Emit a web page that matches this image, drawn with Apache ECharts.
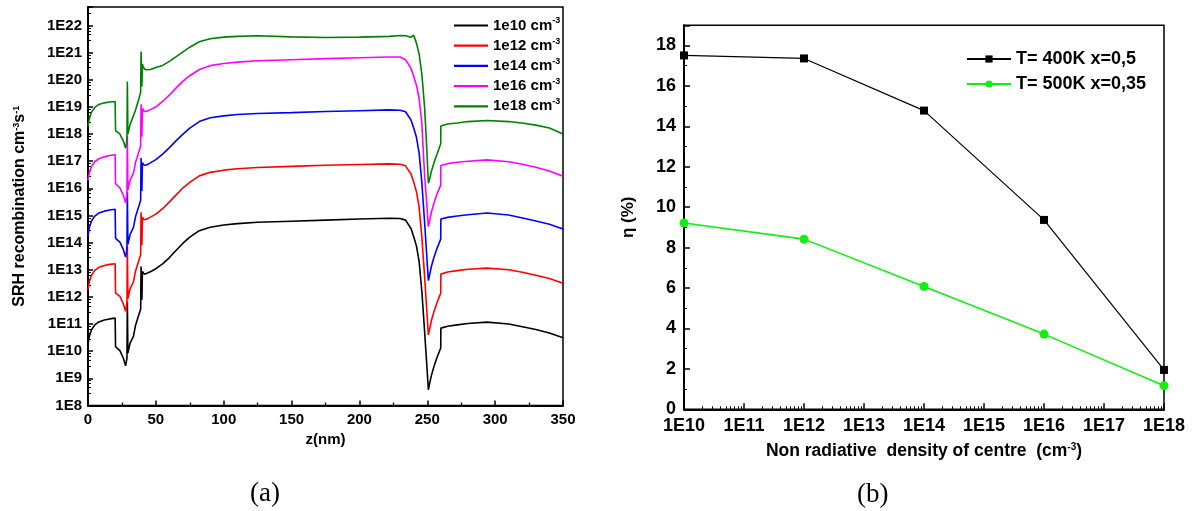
<!DOCTYPE html>
<html><head><meta charset="utf-8">
<script src="https://cdn.jsdelivr.net/npm/echarts@6/dist/echarts.min.js"></script>
<style>html,body{margin:0;padding:0;background:#fff}#c{width:1193px;height:511px}</style>
</head><body><div id="c"></div>
<script>
// ---- Panel (a): SRH recombination vs z (values as log10 of cm^-3 s^-1) ----
const zNm = [0, 1, 2.5, 5, 8, 12, 16, 20, 20.3, 21.5,
  23.5, 26, 27.7, 28.7, 29.0, 29.4, 31, 33.5, 35, 37.5,
  38.8, 39.1, 39.7, 40.1, 40.6, 41.5, 43, 46, 50, 55,
  60, 65, 70, 75, 82, 90, 100, 110, 125, 150,
  175, 200, 222, 230, 234, 238, 240, 242, 244, 246,
  248, 249.5, 250.8, 251.5, 253, 255, 257, 259.9, 260, 265,
  272, 280, 294, 310, 321, 330, 340, 350];

const logSrh1e10 = [10.24, 10.55, 10.78, 10.97, 11.08, 11.15, 11.19, 11.22, 10.17, 10.12,
  10.02, 9.75, 9.46, 9.75, 11.83, 9.93, 10.3, 10.55, 10.95, 11.35,
  11.55, 13.12, 11.9, 12.94, 12.9, 12.84, 12.86, 12.93, 13.04, 13.22,
  13.45, 13.72, 13.98, 14.2, 14.44, 14.57, 14.65, 14.7, 14.75, 14.79,
  14.83, 14.87, 14.9, 14.89, 14.83, 14.52, 14.22, 13.88, 13.3, 12.2,
  10.75, 9.6, 8.58, 8.75, 9.1, 9.45, 9.75, 10.12, 10.85, 10.92,
  10.97, 11.02, 11.07, 11.0, 10.89, 10.8, 10.67, 10.5];

const logSrh1e12 = [12.26, 12.56, 12.79, 12.98, 13.09, 13.16, 13.2, 13.22, 12.15, 12.11,
  12.02, 11.75, 11.47, 11.76, 13.86, 11.94, 12.3, 12.56, 12.95, 13.35,
  13.56, 15.12, 13.9, 14.94, 14.9, 14.84, 14.86, 14.94, 15.05, 15.25,
  15.5, 15.76, 16.02, 16.22, 16.46, 16.59, 16.67, 16.72, 16.77, 16.81,
  16.85, 16.88, 16.9, 16.89, 16.83, 16.53, 16.23, 15.88, 15.3, 14.2,
  12.77, 11.6, 10.6, 10.77, 11.12, 11.47, 11.77, 12.14, 12.84, 12.92,
  12.97, 13.02, 13.06, 13.0, 12.9, 12.8, 12.68, 12.5];

const logSrh1e14 = [14.26, 14.56, 14.79, 14.98, 15.09, 15.16, 15.2, 15.23, 14.16, 14.12,
  14.02, 13.75, 13.47, 13.76, 15.88, 13.94, 14.3, 14.56, 14.95, 15.35,
  15.56, 17.12, 15.9, 16.94, 16.9, 16.85, 16.86, 16.94, 17.06, 17.26,
  17.5, 17.76, 18.0, 18.22, 18.46, 18.6, 18.67, 18.72, 18.76, 18.79,
  18.83, 18.86, 18.89, 18.88, 18.82, 18.52, 18.22, 17.88, 17.3, 16.2,
  14.77, 13.6, 12.6, 12.76, 13.12, 13.47, 13.77, 14.13, 14.87, 14.93,
  14.98, 15.03, 15.09, 15.02, 14.9, 14.8, 14.68, 14.5];

const logSrh1e16 = [16.29, 16.57, 16.8, 16.98, 17.09, 17.16, 17.21, 17.24, 16.17, 16.12,
  16.02, 15.75, 15.47, 15.76, 17.92, 15.95, 16.3, 16.56, 16.95, 17.35,
  17.56, 19.1, 17.9, 18.94, 18.88, 18.83, 18.83, 18.9, 19.0, 19.2,
  19.44, 19.7, 19.95, 20.15, 20.38, 20.52, 20.6, 20.65, 20.7, 20.74,
  20.78, 20.81, 20.84, 20.84, 20.74, 20.42, 20.12, 19.8, 19.3, 18.4,
  16.5, 15.5, 14.59, 14.76, 15.12, 15.47, 15.77, 16.12, 16.84, 16.91,
  16.96, 17.0, 17.05, 16.98, 16.88, 16.78, 16.64, 16.45];

const logSrh1e18 = [18.28, 18.57, 18.8, 18.98, 19.09, 19.15, 19.18, 19.2, 18.13, 18.1,
  18.0, 17.75, 17.48, 17.75, 19.94, 18.0, 18.35, 18.68, 18.88, 19.3,
  19.55, 21.04, 19.75, 20.58, 20.5, 20.4, 20.37, 20.38, 20.45, 20.53,
  20.68, 20.85, 21.03, 21.2, 21.4, 21.51, 21.57, 21.6, 21.62, 21.58,
  21.56, 21.57, 21.6, 21.63, 21.62, 21.57, 21.64, 21.35, 20.95, 20.2,
  19.0, 17.6, 16.19, 16.3, 16.62, 16.95, 17.24, 17.64, 18.3, 18.37,
  18.41, 18.46, 18.5, 18.46, 18.4, 18.33, 18.22, 18.0];

const srhNames = ['1e10 cm-3', '1e12 cm-3', '1e14 cm-3', '1e16 cm-3', '1e18 cm-3'];
const srhColors = ['#000000', '#ff0000', '#0000ff', '#ff00ff', '#008000'];

// ---- Panel (b): efficiency vs centre density ----
const centreDensity = [1e10, 1e12, 1e14, 1e16, 1e18];
const eta400K = [17.51, 17.36, 14.78, 9.37, 1.95];
const eta500K = [9.22, 8.42, 6.08, 3.72, 1.17];
const etaNames = ['T= 400K x=0,5', 'T= 500K x=0,35'];

const FONT = "'Liberation Sans', Arial, Helvetica, sans-serif";
const SERIF = "'Liberation Serif', 'Times New Roman', serif";

function pairs(logs) { return zNm.map((z, i) => [z, Math.pow(10, logs[i])]); }
function expLabel(v) {
  const e = Math.log10(v);
  return Math.abs(e - Math.round(e)) < 1e-6 ? '1E' + Math.round(e) : '';
}
const srhLogs = [logSrh1e10, logSrh1e12, logSrh1e14, logSrh1e16, logSrh1e18];

const chart = echarts.init(document.getElementById('c'));
const leftSeries = srhLogs.map((logs, i) => ({
  name: srhNames[i], type: 'line', xAxisIndex: 0, yAxisIndex: 0,
  data: pairs(logs), symbol: 'none', showSymbol: false,
  lineStyle: { color: srhColors[i], width: 1.6 }, itemStyle: { color: srhColors[i] },
  animation: false
}));

const supStyle = { fontSize: 9, fontWeight: 'bold', fontFamily: FONT, lineHeight: 8, verticalAlign: 'top', color: '#000' };

const option = {
  animation: false,
  backgroundColor: '#fff',
  textStyle: { fontFamily: FONT },
  grid: [
    { left: 88, top: 7, width: 475, height: 398.5, show: true, borderColor: '#000', borderWidth: 1.5, backgroundColor: 'transparent' },
    { left: 684, top: 25.3, width: 480, height: 384, show: true, borderColor: '#000', borderWidth: 1.5, backgroundColor: 'transparent' }
  ],
  legend: [
    {
      orient: 'vertical', left: 449, top: 11.5, itemWidth: 34, itemHeight: 2.2, itemGap: 3.7,
      data: srhNames.map(n => ({ name: n, icon: 'rect' })),
      formatter: n => '{t|' + n.slice(0, -2) + '}{s|' + n.slice(-2) + '}',
      textStyle: {
        fontFamily: FONT, color: '#000',
        rich: {
          t: { fontSize: 15, fontWeight: 'bold', fontFamily: FONT, lineHeight: 18, color: '#000' },
          s: { fontSize: 9, fontWeight: 'bold', fontFamily: FONT, lineHeight: 10, verticalAlign: 'top', color: '#000' }
        }
      }
    },
    {
      orient: 'vertical', left: 961, top: 44, itemWidth: 44, itemHeight: 9, itemGap: 5,
      data: etaNames,
      textStyle: { fontFamily: FONT, fontWeight: 'bold', fontSize: 18, color: '#000', lineHeight: 20 }
    }
  ],
  xAxis: [
    {
      type: 'value', gridIndex: 0, min: 0, max: 350, interval: 50,
      axisLine: { lineStyle: { color: '#000', width: 2 } },
      axisTick: { inside: true, length: 5, lineStyle: { color: '#000', width: 1.5 } },
      minorTick: { show: true, splitNumber: 2, length: 3, lineStyle: { color: '#000', width: 1.2 } },
      splitLine: { show: false },
      axisLabel: { color: '#000', fontWeight: 'bold', fontSize: 15, margin: 7, fontFamily: FONT },
      name: 'z(nm)', nameLocation: 'middle', nameGap: 23,
      nameTextStyle: { color: '#000', fontWeight: 'bold', fontSize: 15, fontFamily: FONT }
    },
    {
      type: 'log', gridIndex: 1, min: 1e10, max: 1e18, logBase: 10,
      axisLine: { lineStyle: { color: '#000', width: 2 } },
      axisTick: { inside: true, length: 6, lineStyle: { color: '#000', width: 1.5 } },
      minorTick: { show: true, splitNumber: 9, length: 3, lineStyle: { color: '#000', width: 1 } },
      splitLine: { show: false },
      axisLabel: { color: '#000', fontWeight: 'bold', fontSize: 18, margin: 8, fontFamily: FONT, formatter: expLabel },
      name: 'Non radiative  density of centre  (cm{s|-3})', nameLocation: 'middle', nameGap: 33,
      nameTextStyle: {
        color: '#000', fontWeight: 'bold', fontSize: 17.5, fontFamily: FONT,
        rich: { s: Object.assign({}, supStyle, { fontSize: 10 }) }
      }
    }
  ],
  yAxis: [
    {
      type: 'log', gridIndex: 0, min: 1e8, max: 4.8e22, interval: 1, logBase: 10,
      axisLine: { lineStyle: { color: '#000', width: 2 } },
      axisTick: { inside: true, length: 5, lineStyle: { color: '#000', width: 1.5 } },
      minorTick: { show: true, splitNumber: 5, length: 3, lineStyle: { color: '#000', width: 1 } },
      splitLine: { show: false },
      axisLabel: { color: '#000', fontWeight: 'bold', fontSize: 15, margin: 6, fontFamily: FONT, formatter: expLabel },
      name: 'SRH recombination cm{s|-3}s{s|-1}', nameLocation: 'middle', nameGap: 60,
      nameTextStyle: {
        color: '#000', fontWeight: 'bold', fontSize: 16, fontFamily: FONT,
        rich: { s: supStyle }
      }
    },
    {
      type: 'value', gridIndex: 1, min: 0, max: 19, interval: 2,
      axisLine: { lineStyle: { color: '#000', width: 2 } },
      axisTick: { inside: true, length: 6, lineStyle: { color: '#000', width: 1.5 } },
      minorTick: { show: true, splitNumber: 2, length: 3, lineStyle: { color: '#000', width: 1 } },
      splitLine: { show: false },
      axisLabel: { color: '#000', fontWeight: 'bold', fontSize: 18, margin: 8, fontFamily: FONT,
        formatter: v => (v % 2 === 0 ? String(v) : '') },
      name: 'η (%)', nameLocation: 'middle', nameGap: 47,
      nameTextStyle: { color: '#000', fontWeight: 'bold', fontSize: 17, fontFamily: FONT }
    }
  ],
  series: leftSeries.concat([
    {
      name: etaNames[0], type: 'line', xAxisIndex: 1, yAxisIndex: 1, clip: false,
      data: centreDensity.map((c, i) => [c, eta400K[i]]),
      symbol: 'rect', symbolSize: 8, showSymbol: true,
      lineStyle: { color: '#000', width: 1.2 }, itemStyle: { color: '#000' }
    },
    {
      name: etaNames[1], type: 'line', xAxisIndex: 1, yAxisIndex: 1, clip: false,
      data: centreDensity.map((c, i) => [c, eta500K[i]]),
      symbol: 'circle', symbolSize: 9, showSymbol: true,
      lineStyle: { color: '#11ee11', width: 1.6 }, itemStyle: { color: '#11ee11' }
    }
  ]),
  graphic: [
    { type: 'text', left: 250, top: 480, style: { text: '(a)', font: '27px ' + SERIF, fill: '#000' } },
    { type: 'text', left: 857, top: 481, style: { text: '(b)', font: '27px ' + SERIF, fill: '#000' } }
  ]
};
chart.setOption(option);
</script>
</body></html>
